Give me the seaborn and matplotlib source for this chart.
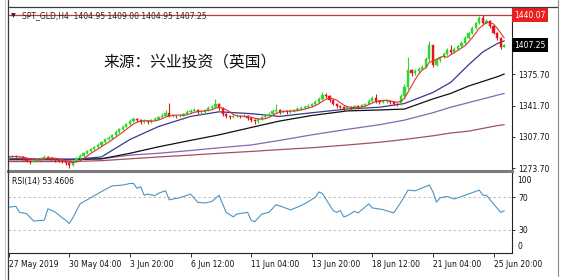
import numpy as np
import pandas as pd
import matplotlib
matplotlib.use("Agg")
import matplotlib.pyplot as plt
import matplotlib.transforms as mtransforms
from matplotlib.lines import Line2D
import seaborn as sns

# ---------------- data ----------------
opens = [1285, 1286, 1287, 1286, 1286, 1284, 1282, 1281, 1283, 1284,
         1285, 1286, 1285, 1284, 1283, 1282, 1281, 1279, 1277, 1281,
         1285, 1287, 1290, 1292, 1295, 1297, 1299, 1302, 1305, 1307,
         1310, 1313, 1316, 1319, 1322, 1325, 1327, 1326, 1324, 1325,
         1324, 1326, 1327, 1329, 1331, 1334, 1331, 1331, 1330, 1331,
         1333, 1335, 1336, 1337, 1335, 1335, 1337, 1339, 1340, 1344,
         1339, 1333, 1330, 1329, 1330, 1331, 1330, 1331, 1328, 1326,
         1325, 1327, 1329, 1331, 1333, 1336, 1337, 1335, 1336, 1335,
         1336, 1337, 1338, 1339, 1340, 1341, 1343, 1346, 1349, 1353,
         1352, 1348, 1344, 1341, 1340, 1338, 1340, 1339, 1341, 1340,
         1342, 1344, 1347, 1350, 1347, 1346, 1347, 1347, 1346, 1344,
         1343, 1352, 1362, 1380, 1377, 1379, 1382, 1384, 1392, 1407,
         1386, 1391, 1394, 1398, 1402, 1400, 1403, 1406, 1410, 1415,
         1420, 1426, 1431, 1437, 1431, 1434, 1428, 1421, 1415, 1404.95]
highs = [1287, 1288, 1288, 1287, 1287, 1285, 1283, 1284, 1285, 1286,
         1288, 1287, 1286, 1285, 1284, 1283, 1282, 1280, 1282, 1286,
         1289, 1291, 1294, 1296, 1298, 1301, 1303, 1306, 1309, 1311,
         1315, 1317, 1321, 1323, 1327, 1329, 1328, 1327, 1327, 1326,
         1327, 1329, 1331, 1334, 1337, 1345, 1333, 1332, 1333, 1334,
         1337, 1338, 1339, 1338, 1337, 1338, 1341, 1342, 1349, 1345,
         1340, 1334, 1331, 1332, 1333, 1332, 1333, 1332, 1329, 1327,
         1328, 1330, 1332, 1335, 1338, 1343, 1338, 1337, 1337, 1338,
         1338, 1340, 1341, 1342, 1343, 1345, 1348, 1351, 1357, 1355,
         1353, 1349, 1345, 1342, 1341, 1341, 1341, 1342, 1342, 1343,
         1345, 1349, 1352, 1354, 1348, 1348, 1349, 1348, 1347, 1345,
         1354, 1365, 1394, 1382, 1381, 1384, 1386, 1394, 1412, 1408,
         1393, 1396, 1400, 1404, 1408, 1405, 1408, 1412, 1417, 1422,
         1428, 1433, 1439, 1440.07, 1436, 1435, 1429, 1422, 1416, 1409.00]
lows = [1284, 1285, 1285, 1285, 1283, 1281, 1278, 1280, 1282, 1283,
        1284, 1284, 1283, 1281, 1280, 1279, 1277, 1274, 1276, 1280,
        1284, 1286, 1289, 1291, 1294, 1296, 1298, 1301, 1304, 1306,
        1309, 1312, 1315, 1318, 1321, 1324, 1324, 1322, 1323, 1322,
        1323, 1325, 1326, 1328, 1330, 1329, 1329, 1328, 1329, 1330,
        1332, 1334, 1335, 1333, 1333, 1334, 1336, 1338, 1339, 1337,
        1331, 1328, 1327, 1328, 1329, 1328, 1329, 1326, 1324, 1322,
        1323, 1326, 1328, 1330, 1332, 1334, 1333, 1334, 1333, 1334,
        1335, 1336, 1337, 1338, 1339, 1340, 1342, 1345, 1348, 1350,
        1346, 1342, 1339, 1338, 1336, 1337, 1337, 1338, 1338, 1339,
        1341, 1343, 1346, 1345, 1344, 1345, 1345, 1344, 1342, 1341,
        1342, 1350, 1360, 1374, 1375, 1377, 1380, 1383, 1390, 1384,
        1385, 1389, 1393, 1397, 1398, 1399, 1402, 1405, 1409, 1414,
        1419, 1425, 1430, 1429, 1430, 1426, 1419, 1413, 1403, 1404.95]
closes = [1286, 1287, 1286, 1286, 1284, 1282, 1281, 1283, 1284, 1285,
          1286, 1285, 1284, 1283, 1282, 1281, 1279, 1277, 1281, 1285,
          1287, 1290, 1292, 1295, 1297, 1299, 1302, 1305, 1307, 1310,
          1313, 1316, 1319, 1322, 1325, 1327, 1326, 1324, 1325, 1324,
          1326, 1327, 1329, 1331, 1334, 1331, 1331, 1330, 1331, 1333,
          1335, 1336, 1337, 1335, 1335, 1337, 1339, 1340, 1344, 1339,
          1333, 1330, 1329, 1330, 1331, 1330, 1331, 1328, 1326, 1325,
          1327, 1329, 1331, 1333, 1336, 1337, 1335, 1336, 1335, 1336,
          1337, 1338, 1339, 1340, 1341, 1343, 1346, 1349, 1353, 1352,
          1348, 1344, 1341, 1340, 1338, 1340, 1339, 1341, 1340, 1342,
          1344, 1347, 1350, 1347, 1346, 1347, 1347, 1346, 1344, 1343,
          1352, 1362, 1380, 1377, 1379, 1382, 1384, 1392, 1407, 1386,
          1391, 1394, 1398, 1402, 1400, 1403, 1406, 1410, 1415, 1420,
          1426, 1431, 1437, 1431, 1434, 1428, 1421, 1415, 1405, 1407.25]

tick_bars = [0, 17, 34, 51, 68, 85, 102, 119, 136]
tick_labels = ["27 May 2019", "30 May 04:00", "3 Jun 20:00", "6 Jun 12:00",
               "11 Jun 04:00", "13 Jun 20:00", "18 Jun 12:00", "21 Jun 04:00",
               "25 Jun 20:00"]

ma_bars = [0, 17, 26, 34, 42, 51, 59, 68, 76, 85, 95, 104, 111, 119, 124, 129, 133, 137, 139]
ma_blue = [1284, 1283, 1286, 1305, 1319, 1330, 1335, 1333, 1330, 1334, 1338, 1340, 1344,
           1356, 1367, 1386, 1400, 1409, 1412]
ma_black = [1283, 1283, 1284, 1290, 1297, 1304, 1310, 1318, 1325, 1331, 1336, 1337, 1338,
            1349, 1355, 1363, 1368, 1373, 1376]
ma_purple = [1284, 1284, 1284, 1288, 1290, 1293, 1296, 1299, 1304, 1310, 1316, 1321, 1326,
             1334, 1340, 1345, 1349, 1353, 1355]
ma_brown = [1281, 1281, 1282, 1284, 1286, 1288, 1290, 1292, 1294, 1296, 1299, 1302, 1305,
            1309, 1312, 1314, 1317, 1320, 1321]
fast_ma_period = 5

rsi_bars = [0, 2, 3, 5, 7, 10, 11, 13, 15, 16, 17, 18, 20, 22, 26, 29, 32, 34, 35, 36,
            37, 38, 39, 41, 42, 44, 45, 48, 51, 53, 55, 57, 59, 61, 63, 64, 67, 68, 69, 71,
            73, 75, 77, 79, 81, 83, 86, 87, 88, 91, 92, 93, 94, 95, 97, 98, 101, 102, 105, 108,
            110, 112, 114, 118, 119, 120, 121, 123, 125, 128, 132, 133, 134, 136, 138, 139]
rsi_vals = [57.9, 59, 51.6, 50, 41, 42, 56, 52, 45, 42, 38, 45, 62, 67, 77, 84, 85, 87, 87, 81,
            83, 72.5, 74, 72, 75, 78, 67, 69.5, 74, 64, 63, 65, 72.5, 51.6, 46, 49.6, 51.6, 42, 40, 49.6,
            51.6, 61, 58, 54.6, 58, 62, 70, 76.6, 74.6, 53.8, 51.6, 53.8, 46, 47.5, 52.9, 50.9, 62, 57, 55, 50.9,
            64, 78.8, 78, 85, 76.6, 64, 69.5, 71, 68, 72.5, 78.8, 72.5, 72.5, 62, 51.6, 53.46]

price_ticks = [1273.70, 1307.70, 1341.70, 1375.70, 1409.70, 1443.70]
price_tick_labels = ["1273.70", "1307.70", "1341.70", "1375.70", "", ""]
rsi_ticks = [30, 70]
hline_price = 1440.07
last_price = 1407.25
title_text = "SPT_GLD,H4  1404.95 1409.00 1404.95 1407.25"
watermark = "来源：兴业投资（英国）"
rsi_title = "RSI(14) 53.4606"

# ---------------- style ----------------
sns.set_theme(style="white")
plt.rcParams["font.family"] = ["DejaVu Sans", "Noto Sans CJK SC"]
FS = 5.5
W, H = 570, 280

fig = plt.figure(figsize=(W / 100, H / 100), dpi=100)
fig.patch.set_facecolor("white")


def px_axes(l, t, r, b):
    return fig.add_axes([l / W, 1 - b / H, (r - l) / W, (b - t) / H])


ax = px_axes(8, 7, 512, 171)
axr = px_axes(8, 173, 512, 253)

n = len(closes)
x = np.arange(n)
XL = (-0.2, -0.2 + 504 / 3.565)

# ---------------- candles ----------------
df = pd.DataFrame({"bar": x, "open": opens, "high": highs, "low": lows, "close": closes})
up = df["close"] >= df["open"]
col_up, col_dn = "#2fd82f", "#e3161a"
colors = np.where(up, col_up, col_dn)
ax.vlines(df["bar"], df["low"], df["high"], colors=colors, linewidth=0.8, zorder=3)
body_bottom = np.minimum(df["open"], df["close"])
body_h = np.maximum(np.abs(df["close"] - df["open"]), 0.5)
ax.bar(df["bar"], body_h, bottom=body_bottom, width=0.62, color=colors,
       edgecolor=colors, linewidth=0.3, zorder=4)

# ---------------- moving averages ----------------
fast_ma = df["close"].rolling(fast_ma_period, min_periods=1).mean()
sns.lineplot(x=df["bar"], y=fast_ma, ax=ax, color="#e0332b", linewidth=0.8, zorder=5)
sns.lineplot(x=ma_bars, y=ma_brown, ax=ax, color="#a2505c", linewidth=0.9, zorder=2)
sns.lineplot(x=ma_bars, y=ma_purple, ax=ax, color="#8467b3", linewidth=0.9, zorder=2)
sns.lineplot(x=ma_bars, y=ma_black, ax=ax, color="#101010", linewidth=0.9, zorder=2)
sns.lineplot(x=ma_bars, y=ma_blue, ax=ax, color="#38388e", linewidth=0.9, zorder=2)

ax.axhline(hline_price, color="#d2342f", linewidth=0.9, zorder=1)

ax.set_xlim(*XL)
ax.set_ylim(1270.77, 1448.76)
ax.set_xlabel("")
ax.set_ylabel("")
ax.set_xticks([])
ax.yaxis.tick_right()
ax.set_yticks(price_ticks)
ax.set_yticklabels(price_tick_labels)
ax.tick_params(axis="y", which="both", right=True, left=False, length=2.5, width=0.6,
               pad=1.8, labelsize=FS, colors="#111111")
for s in ["left", "top"]:
    ax.spines[s].set_visible(False)
ax.spines["right"].set_color("#222222")
ax.spines["right"].set_linewidth(0.8)
ax.spines["bottom"].set_color("#7a7a7a")
ax.spines["bottom"].set_linewidth(2.2)

# price boxes on the right
trans = mtransforms.blended_transform_factory(ax.transAxes, ax.transData)
ax.text(1.004, hline_price, f"{hline_price:.2f}", transform=trans, ha="left", va="center",
        fontsize=FS, color="white", zorder=10, clip_on=False,
        bbox=dict(boxstyle="square,pad=0.3", fc="#ea1f1f", ec="none"))
ax.text(1.004, last_price, f"{last_price:.2f}", transform=trans, ha="left", va="center",
        fontsize=FS, color="white", zorder=10, clip_on=False,
        bbox=dict(boxstyle="square,pad=0.3", fc="#000000", ec="none"))

# title + watermark
fig.text(10.5 / W, 1 - 15.3 / H, "▼", fontsize=4.5, color="#1e2a1e", ha="left", va="center")
fig.text(22 / W, 1 - 15.3 / H, title_text, fontsize=FS, color="#1e2a1e", ha="left", va="center")
fig.text(103 / W, 1 - 62 / H, watermark, fontsize=11.3, color="#111111", ha="left",
         va="center", family=["Noto Sans CJK SC"])

# ---------------- RSI ----------------
sns.lineplot(x=rsi_bars, y=rsi_vals, ax=axr, color="#4f93c2", linewidth=0.8, zorder=3)
for lv in rsi_ticks:
    axr.axhline(lv, color="#b4b4b4", linewidth=0.6, linestyle=(0, (3, 3)), zorder=1)
axr.set_xlim(*XL)
axr.set_ylim(1.8, 99.8)
axr.set_xlabel("")
axr.set_ylabel("")
axr.yaxis.tick_right()
axr.set_yticks(rsi_ticks)
axr.set_yticklabels([str(v) for v in rsi_ticks])
axr.tick_params(axis="y", right=True, left=False, length=2.5, width=0.6, pad=1.8,
                labelsize=FS, colors="#111111")
axr.set_xticks(tick_bars)
axr.set_xticklabels(tick_labels, ha="left")
axr.tick_params(axis="x", bottom=True, length=3, width=0.6, pad=2.2, labelsize=FS,
                colors="#111111")
transr = mtransforms.blended_transform_factory(axr.transAxes, axr.transData)
axr.text(1.011, 91, "100", transform=transr, ha="left", va="center", fontsize=FS, color="#111111")
axr.text(1.011, 9.5, "0", transform=transr, ha="left", va="center", fontsize=FS, color="#111111")
axr.text(4 / 504, 1 - 8.5 / 80, rsi_title, transform=axr.transAxes, ha="left", va="center",
         fontsize=FS, color="#111111")
axr.spines["top"].set_visible(False)
axr.spines["left"].set_visible(False)
for s in ["right", "bottom"]:
    axr.spines[s].set_color("#222222")
    axr.spines[s].set_linewidth(0.8)

# ---------------- outer frame ----------------
def fline(x0, y0, x1, y1, color, lw):
    fig.add_artist(Line2D([x0 / W, x1 / W], [1 - y0 / H, 1 - y1 / H], color=color,
                          linewidth=lw, transform=fig.transFigure))

fline(4.5, 0, 4.5, 280, "#c8c8c8", 0.8)
fline(7.5, 0, 7.5, 280, "#3a3a3a", 0.9)
fline(7.5, 7, 558, 7, "#3a3a3a", 0.9)
fline(557.5, 0, 557.5, 276, "#8a8a8a", 0.8)

fig.savefig("out.png", dpi=100)
